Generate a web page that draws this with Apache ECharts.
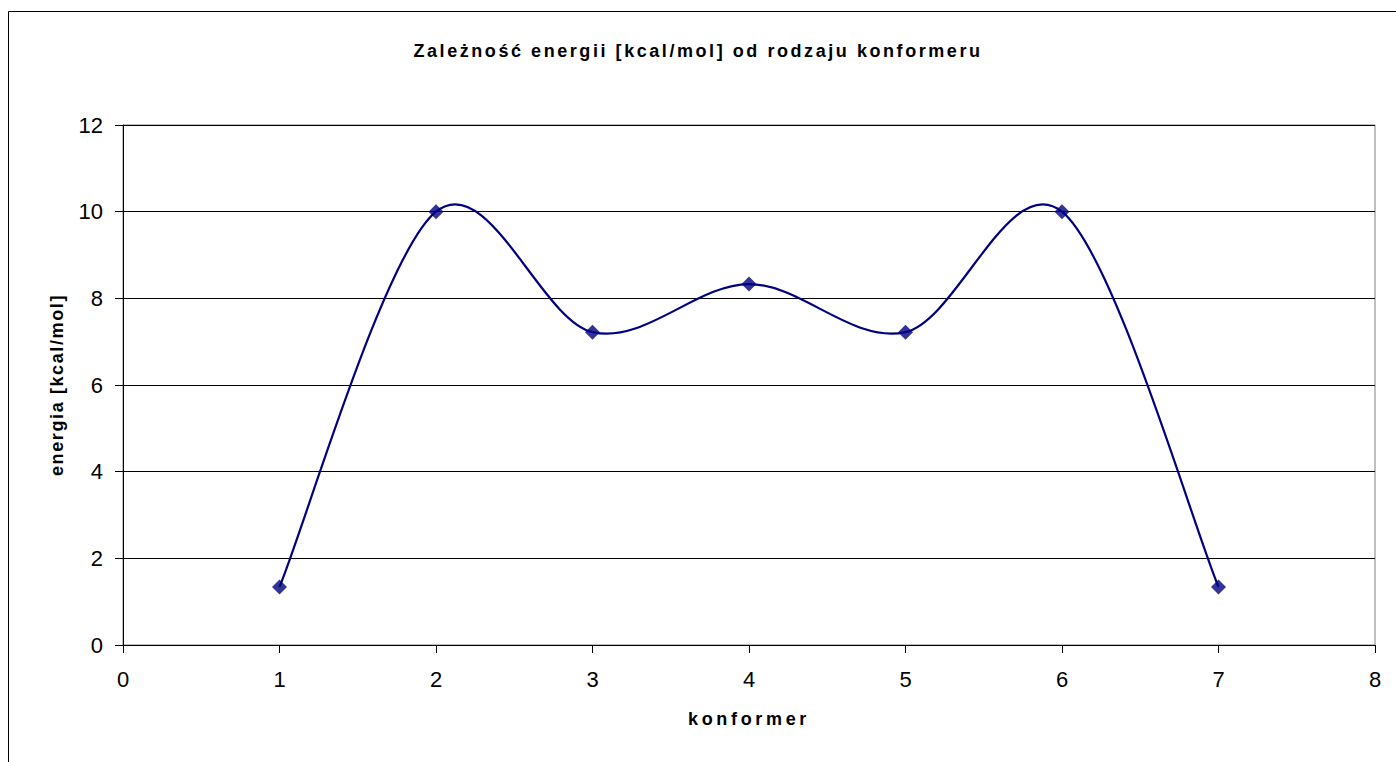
<!DOCTYPE html>
<html>
<head>
<meta charset="utf-8">
<script src="https://cdn.jsdelivr.net/npm/echarts@6/dist/echarts.min.js"></script>
<style>
html,body{margin:0;padding:0;background:#fff;}
#chart{width:1396px;height:762px;}
</style>
</head>
<body>
<div id="chart"></div>
<script>
const titleText = 'Zależność energii [kcal/mol] od rodzaju konformeru';
const xAxisName = 'konformer';
const yAxisName = 'energia [kcal/mol]';
const konformer = [1, 2, 3, 4, 5, 6, 7];
const energia = [1.34, 10.0, 7.22, 8.33, 7.22, 10.0, 1.34];

const chart = echarts.init(document.getElementById('chart'), null, {renderer: 'svg'});
const font = '"Liberation Sans", Arial, sans-serif';
const navy = '#000080';
const nameSize = 18;

function renderSegment(params, api) {
  const i = params.dataIndex;
  const n = konformer.length;
  const pt = j => api.coord([konformer[Math.max(0, Math.min(n - 1, j))], energia[Math.max(0, Math.min(n - 1, j))]]);
  const p0 = pt(i - 1), p1 = pt(i), p2 = pt(i + 1), p3 = pt(i + 2);
  return {
    type: 'bezierCurve',
    shape: {
      x1: p1[0], y1: p1[1], x2: p2[0], y2: p2[1],
      cpx1: p1[0] + (p2[0] - p0[0]) / 6, cpy1: p1[1] + (p2[1] - p0[1]) / 6,
      cpx2: p2[0] - (p3[0] - p1[0]) / 6, cpy2: p2[1] - (p3[1] - p1[1]) / 6
    },
    style: {stroke: navy, lineWidth: 2.2, fill: null},
    silent: true
  };
}

chart.setOption({
  animation: false,
  backgroundColor: '#fff',
  title: {
    text: titleText,
    left: 'center',
    top: 37,
    textStyle: {fontFamily: font, fontSize: nameSize, fontWeight: 'bold', color: '#000'}
  },
  graphic: [{
    type: 'rect',
    shape: {x: 8.5, y: 11.5, width: 1400, height: 760},
    style: {fill: 'none', stroke: '#000', lineWidth: 1},
    silent: true
  }],
  grid: {left: 123, right: 21, top: 125, bottom: 117, show: true, borderColor: '#808080', borderWidth: 1},
  xAxis: {
    type: 'value',
    min: 0, max: 8, interval: 1,
    name: xAxisName,
    nameLocation: 'middle',
    nameGap: 65,
    nameTextStyle: {fontFamily: font, fontSize: nameSize, fontWeight: 'bold', color: '#000'},
    axisLine: {show: true, onZero: false, lineStyle: {color: '#000', width: 1}},
    axisTick: {show: true, inside: false, length: 8, lineStyle: {color: '#000'}},
    axisLabel: {fontFamily: font, fontSize: 22, color: '#000', margin: 23},
    splitLine: {show: false}
  },
  yAxis: {
    type: 'value',
    min: 0, max: 12, interval: 2,
    name: yAxisName,
    nameLocation: 'middle',
    nameGap: 57,
    nameTextStyle: {fontFamily: font, fontSize: nameSize, fontWeight: 'bold', color: '#000'},
    axisLine: {show: true, lineStyle: {color: '#000', width: 1}},
    axisTick: {show: true, inside: false, length: 8, lineStyle: {color: '#000'}},
    axisLabel: {fontFamily: font, fontSize: 22, color: '#000', margin: 20},
    splitLine: {show: true, lineStyle: {color: '#000', width: 1}}
  },
  series: [{
    type: 'custom',
    data: konformer.slice(0, -1).map((x, i) => [x, energia[i]]),
    renderItem: renderSegment,
    z: 2
  }, {
    type: 'scatter',
    data: konformer.map((x, i) => [x, energia[i]]),
    symbol: 'diamond',
    symbolSize: 15,
    itemStyle: {color: navy},
    z: 3
  }]
});

// target rendered widths (px) of the bold texts, reached via letter-spacing
const targetWidth = {};
targetWidth[titleText] = 569;
targetWidth[xAxisName] = 122;
targetWidth[yAxisName] = 182;
const measureCtx = document.createElement('canvas').getContext('2d');
measureCtx.font = 'bold ' + nameSize + 'px ' + font;
function applySpacing() {
  document.querySelectorAll('#chart svg text').forEach(t => {
    const txt = t.textContent;
    const w = targetWidth[txt];
    if (w) {
      const natural = measureCtx.measureText(txt).width;
      const sp = Math.max(0, (w - natural) / txt.length);
      t.setAttribute('letter-spacing', sp.toFixed(2) + 'px');
    }
  });
}
applySpacing();
chart.on('finished', applySpacing);
setTimeout(applySpacing, 0);
</script>
</body>
</html>
